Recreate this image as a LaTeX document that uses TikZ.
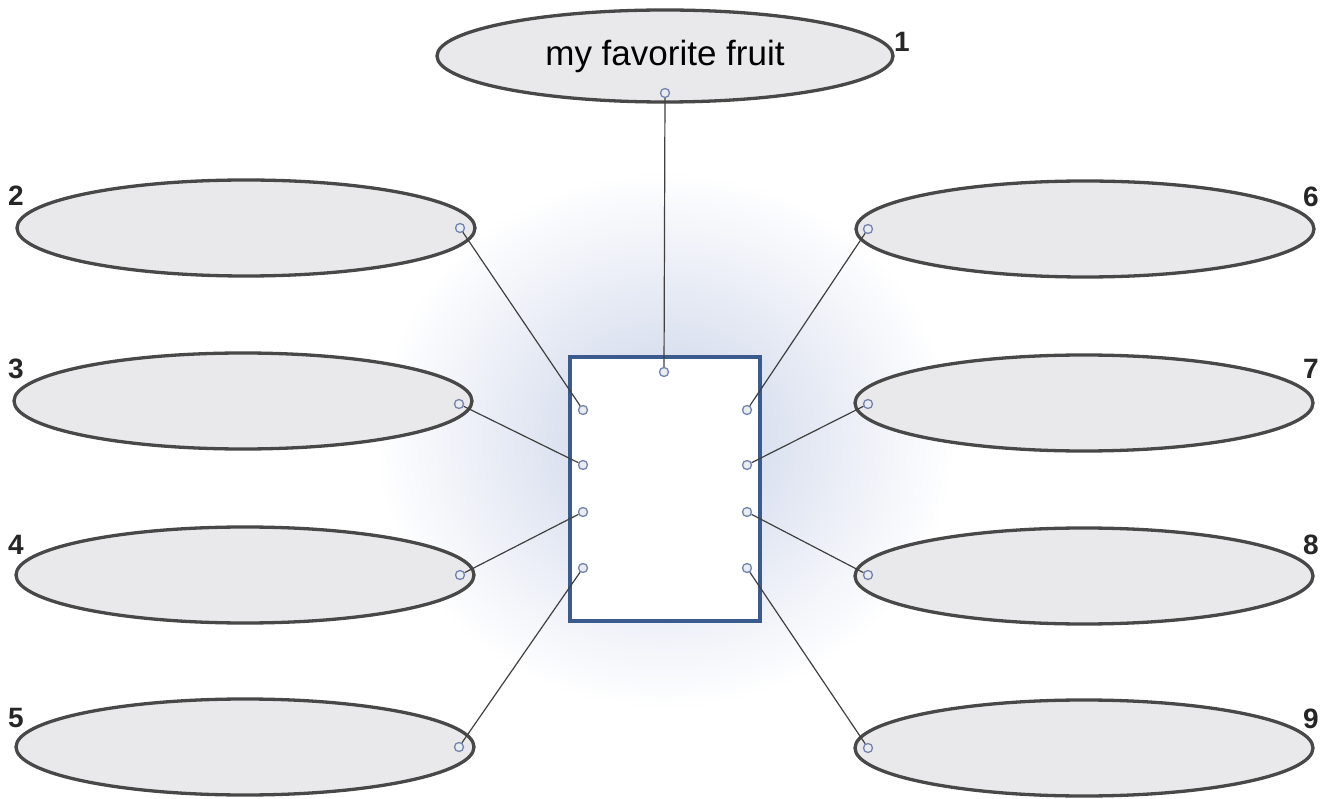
\documentclass[tikz,border=0pt]{standalone}
\usepackage{fontspec}
\setmainfont{Liberation Sans}
\usetikzlibrary{shapes.geometric}
\definecolor{ellfill}{HTML}{E9E9EC}
\definecolor{elldraw}{HTML}{484848}
\definecolor{boxblue}{HTML}{3B5A8E}
\definecolor{dotblue}{HTML}{7483AD}
\definecolor{glow}{HTML}{C9D2E8}
\begin{document}
\begin{tikzpicture}[x=1pt,y=-1pt,
  bubble/.style={ellipse, draw=elldraw, line width=3.3pt, fill=ellfill, minimum width=458pt, minimum height=96pt, inner sep=0pt},
  numlabel/.style={font=\fontsize{28}{30}\selectfont\bfseries, text=black!85, inner sep=0pt},
  dot/.style={circle, draw=dotblue, line width=1.3pt, fill=white!85!dotblue, minimum size=9pt, inner sep=0pt},
  link/.style={draw=black!75, line width=1.2pt}]
\useasboundingbox (0,0) rectangle (1331,799);
\fill[white] (0,0) rectangle (1331,799);
% glow behind box
\shade[inner color=glow, outer color=white] (665,440) ellipse (290pt and 270pt);
% box
\node[draw=boxblue, line width=4pt, fill=white, minimum width=190pt, minimum height=264pt, inner sep=0pt] (box) at (665,489) {};
% ellipses
\node[bubble, minimum width=456pt, minimum height=92pt, font=\fontsize{35}{40}\selectfont] (e1) at (665,56) {my favorite fruit};
\node[bubble] (e2) at (246,228) {};
\node[bubble] (e3) at (243,401) {};
\node[bubble] (e4) at (245,575) {};
\node[bubble] (e5) at (245,747) {};
\node[bubble] (e6) at (1085,229) {};
\node[bubble] (e7) at (1084,403) {};
\node[bubble] (e8) at (1084,576) {};
\node[bubble] (e9) at (1084,748) {};
% numbers
\node[numlabel] (n1) at (902,42) {1};
\node[numlabel] (n2) at (16,196) {2};
\node[numlabel] (n3) at (16,369) {3};
\node[numlabel] (n4) at (16,545) {4};
\node[numlabel] (n5) at (16,718) {5};
\node[numlabel] (n6) at (1311,197) {6};
\node[numlabel] (n7) at (1311,369) {7};
\node[numlabel] (n8) at (1311,545) {8};
\node[numlabel] (n9) at (1311,719) {9};
% dots on ellipses
\node[dot] (d1) at (665,93) {};
\node[dot] (d2) at (460,228) {};
\node[dot] (d3) at (459,404) {};
\node[dot] (d4) at (460,575) {};
\node[dot] (d5) at (459,747) {};
\node[dot] (d6) at (868,229) {};
\node[dot] (d7) at (868,404) {};
\node[dot] (d8) at (868,575) {};
\node[dot] (d9) at (868,748) {};
% dots in box
\node[dot] (b1) at (664,372) {};
\node[dot] (l1) at (583,410) {};
\node[dot] (l2) at (583,465) {};
\node[dot] (l3) at (583,512) {};
\node[dot] (l4) at (583,568) {};
\node[dot] (r1) at (747,410) {};
\node[dot] (r2) at (747,465) {};
\node[dot] (r3) at (747,512) {};
\node[dot] (r4) at (747,568) {};
% connectors
\draw[link] (d1) -- (b1);
\draw[link] (d2) -- (l1);
\draw[link] (d3) -- (l2);
\draw[link] (d4) -- (l3);
\draw[link] (d5) -- (l4);
\draw[link] (d6) -- (r1);
\draw[link] (d7) -- (r2);
\draw[link] (d8) -- (r3);
\draw[link] (d9) -- (r4);
\end{tikzpicture}
\end{document}
